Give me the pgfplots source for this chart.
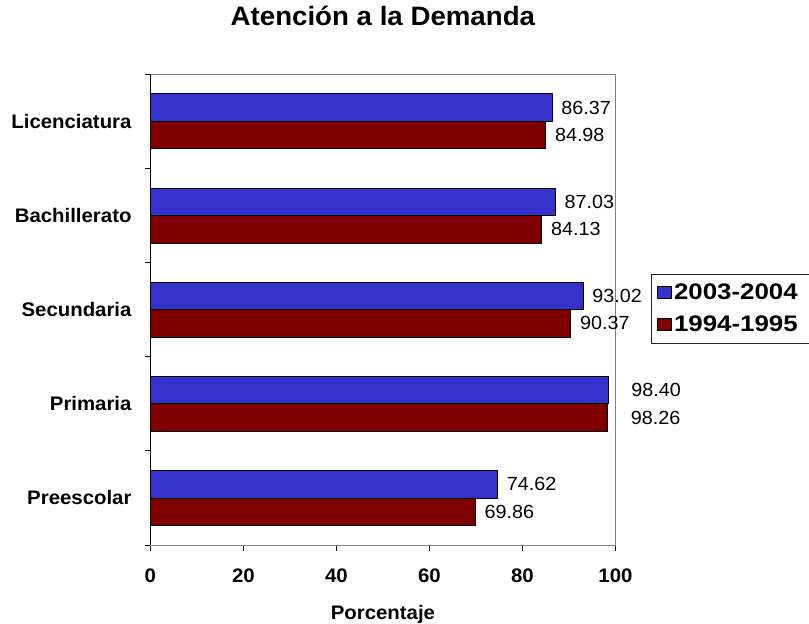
\documentclass[border=0pt]{standalone}
\usepackage{fontspec}
\setmainfont{Liberation Sans}[FakeStretch=1.04]
\newfontfamily\legendfont{Liberation Sans}[FakeStretch=1.15]
\usepackage{pgfplots}
\usepackage{pgfplotstable}
\pgfplotsset{compat=1.18}

\definecolor{barblue}{HTML}{3333CC}
\definecolor{barred}{HTML}{800000}
\definecolor{framegray}{HTML}{808080}

% y: category index (0 = Preescolar), x: percentage, dx: extra label offset
\pgfplotstableread{
y x dx
0 74.62 0
1 98.40 14
2 93.02 0
3 87.03 0
4 86.37 0
}\recent
\pgfplotstableread{
y x dx
0 69.86 0
1 98.26 14
2 90.37 0
3 84.13 0
4 84.98 0
}\older

\pgfplotsset{
  sqlegend/.style={legend image code/.code={
      \draw[##1, line width=0.8pt] (0pt,-6pt) rectangle (14pt,6pt);}},
}
% legend text padded on the right so the box runs past the page edge
\newcommand{\legtext}[1]{#1\rule{20pt}{0pt}}

\begin{document}
\begin{tikzpicture}
\useasboundingbox (-150.3pt,-79pt) rectangle (658.7pt,545pt);
\begin{axis}[
  at={(0pt,0pt)}, anchor=south west,
  scale only axis, width=465.2pt, height=470.7pt,
  xbar, bar width=27.5pt,
  xmin=0, xmax=100, ymin=-0.5, ymax=4.5,
  clip=false,
  xtick={0,20,...,100},
  ytick={-0.5,0.5,...,4.5},
  y tick label as interval,
  yticklabels={Preescolar,Primaria,Secundaria,Bachillerato,Licenciatura},
  tick align=outside,
  xtick pos=bottom, ytick pos=left,
  major tick length=5.5pt,
  tick style={black, line width=0.8pt},
  axis line style={draw=framegray, line width=0.8pt},
  /pgf/number format/assume math mode=true,
  xticklabel style={font=\bfseries\fontsize{19.6}{24}\selectfont, inner sep=0pt, anchor=north, yshift=-18pt},
  yticklabel style={font=\bfseries\fontsize{19.6}{24}\selectfont, inner sep=0pt, anchor=east, xshift=-13.1pt},
  title={Atención a la Demanda},
  title style={at={(axis description cs:0.5,1.0905)}, anchor=base, inner sep=0pt, yshift=0pt,
    font=\bfseries\fontsize{26.6}{32}\selectfont},
  xlabel={Porcentaje},
  xlabel style={at={(axis description cs:0.5,-0.1593)}, anchor=base, inner sep=0pt,
    font=\bfseries\fontsize{19.6}{24}\selectfont},
  nodes near coords={\pgfmathprintnumber[fixed,zerofill,precision=2,assume math mode=true]{\pgfplotspointmeta}},
  point meta=x,
  visualization depends on={\thisrow{dx} \as \dx},
  every node near coord/.append style={font=\fontsize{19}{23}\selectfont, inner sep=0pt,
    anchor=west, xshift={(9+\dx)*1pt}, black},
  legend style={at={(axis description cs:1.076,0.5768)}, anchor=north west,
    draw=black!85, line width=0.8pt, inner xsep=6pt, inner ysep=8pt,
    font=\legendfont\bfseries\fontsize{22.5}{27}\selectfont, row sep=11pt,
    /tikz/every even column/.append style={column sep=4pt}},
  legend cell align=left,
]
\addplot[fill=barblue, draw=black, line width=0.8pt, bar shift=13.75pt, sqlegend]
  table[x=x, y=y] {\recent};
\addlegendentry{\legtext{2003-2004}}
\addplot[fill=barred, draw=black, line width=0.8pt, bar shift=-13.75pt, sqlegend]
  table[x=x, y=y] {\older};
\addlegendentry{\legtext{1994-1995}}
\draw[black, line width=0.8pt] (rel axis cs:0,1) -- (rel axis cs:0,0);
\end{axis}
\end{tikzpicture}
\end{document}
